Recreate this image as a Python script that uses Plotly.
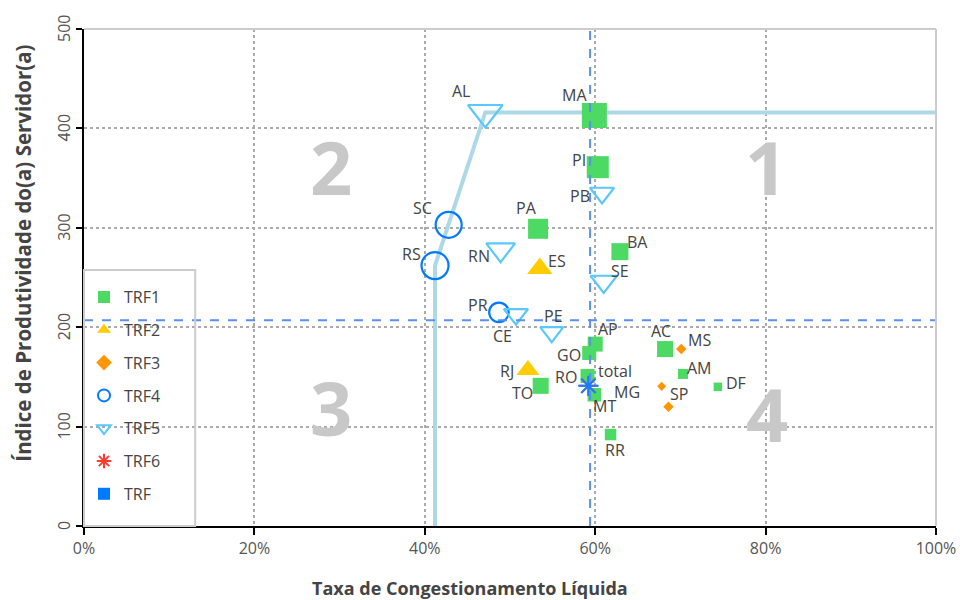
import plotly.graph_objects as go

# ---------------- data ----------------
trf1_names = ["MA", "PI", "PA", "BA", "AP", "GO", "AC", "RO", "TO", "MT", "AM", "DF", "RR"]
trf1_x = [0.599, 0.603, 0.533, 0.629, 0.600, 0.593, 0.682, 0.591, 0.536, 0.599, 0.703, 0.744, 0.618]
trf1_y = [413, 361, 299, 276, 183, 174, 178, 151, 141, 132, 153, 140, 92]
trf1_size = [25, 22, 20, 17, 15, 14, 16, 14, 16, 13.5, 10, 8.5, 11.5]

trf2_names = ["ES", "RJ"]
trf2_x = [0.535, 0.521]
trf2_y = [259, 157]
trf2_size = [22, 20]

trf3_names = ["MS", "SP", ""]
trf3_x = [0.701, 0.678, 0.686]
trf3_y = [178, 140.5, 120]
trf3_size = [8, 7, 8]

trf4_names = ["SC", "RS", "PR"]
trf4_x = [0.428, 0.412, 0.487]
trf4_y = [303, 262, 215]
trf4_size = [26, 27, 19.5]

trf5_names = ["AL", "PB", "RN", "SE", "CE", "PE"]
trf5_x = [0.471, 0.608, 0.489, 0.610, 0.507, 0.549]
trf5_y = [416, 335, 278, 246, 213, 195]
trf5_size = [30, 21, 25, 23, 21, 20]

trf6_names = ["MG"]
trf6_x = [0.592]
trf6_y = [141]

total_names = ["total"]
total_x = [0.592]
total_y = [141]

frontier_x = [0.412, 0.412, 0.471, 1.0]
frontier_y = [0, 262, 416, 416]

ref_x = 0.594   # vertical dashed reference
ref_y = 207     # horizontal dashed reference

quadrant_labels = ["1", "2", "3", "4"]
quadrant_x = [0.80, 0.29, 0.29, 0.802]
quadrant_y = [362, 362, 119, 113]

x_ticks = [0, 0.2, 0.4, 0.6, 0.8, 1.0]
y_ticks = [0, 100, 200, 300, 400, 500]

x_title = "Taxa de Congestionamento Líquida"
y_title = "Índice de Produtividade do(a) Servidor(a)"

# ---------------- style: label offsets (px, right / down) ----------------
trf1_lbl = [(-20, -20), (-19, -7), (-12, -21), (18, -10), (13, -15), (-20, 2), (-4, -18),
            (-22, 1), (-18, 7), (10, 11), (17, -6), (18, -4), (4, 15)]
trf2_lbl = [(17, -8), (-21, 1)]
trf3_lbl = [(18, -9), (17, 8), (0, 0)]
trf4_lbl = [(-26, -17), (-24, -12), (-21, -7)]
trf5_lbl = [(-24, -22), (-22, 3), (-22, 6), (16, -10), (-13, 22), (2, -16)]
trf6_lbl = [(39, 6)]
total_lbl = [(27, -15)]

FONT = "Open Sans"
TXT = "#444444"
TICK = "#555555"

fig = go.Figure()

# frontier
fig.add_trace(go.Scatter(x=frontier_x, y=frontier_y, mode="lines",
                         line=dict(color="#add8e6", width=4), showlegend=False,
                         hoverinfo="skip"))

def add(name, xs, ys, names, lbl, marker, show=True):
    fig.add_trace(go.Scatter(x=xs, y=ys, mode="markers", marker=marker, text=names,
                             name=name, legendgroup=name, showlegend=show))
    for xv, yv, t, (dx, dy) in zip(xs, ys, names, lbl):
        if t:
            fig.add_annotation(x=xv, y=yv, text=t, showarrow=False, xshift=dx, yshift=-dy,
                               xanchor="center", yanchor="middle", borderpad=0,
                               font=dict(family=FONT, size=16, color=TXT))

add("TRF1", trf1_x, trf1_y, trf1_names, trf1_lbl,
    dict(symbol="square", color="#4cd964", size=trf1_size, opacity=1, line=dict(width=0)))
add("TRF2", trf2_x, trf2_y, trf2_names, trf2_lbl,
    dict(symbol="triangle-up", color="#ffcc00", size=trf2_size, opacity=1, line=dict(width=0)))
add("TRF3", trf3_x, trf3_y, trf3_names, trf3_lbl,
    dict(symbol="diamond", color="#ff9500", size=trf3_size, opacity=1, line=dict(width=0)))
add("TRF4", trf4_x, trf4_y, trf4_names, trf4_lbl,
    dict(symbol="circle-open", color="#007aff", size=trf4_size, opacity=1, line=dict(width=2.2)))
add("TRF5", trf5_x, trf5_y, trf5_names, trf5_lbl,
    dict(symbol="triangle-down-open", color="#5ac8fa", size=trf5_size, opacity=1,
         line=dict(width=2.2)))
add("TRF6", trf6_x, trf6_y, trf6_names, trf6_lbl,
    dict(symbol="asterisk-open", color="#ff3b30", size=16, opacity=1, line=dict(width=2)))
# total (drawn as asterisk, legend shows a square)
add("TRF", total_x, total_y, total_names, total_lbl,
    dict(symbol="asterisk-open", color="#1a7cff", size=17, opacity=1, line=dict(width=2)),
    show=False)
fig.add_trace(go.Scatter(x=[None], y=[None], mode="markers", name="TRF", legendgroup="TRF",
                         marker=dict(symbol="square", color="#007aff", size=12)))

# dashed reference lines
fig.add_shape(type="line", xref="x", yref="paper", x0=ref_x, x1=ref_x, y0=0, y1=1,
              line=dict(color="#5b8ff0", width=2, dash="dash"))
fig.add_shape(type="line", xref="paper", yref="y", x0=0, x1=1, y0=ref_y, y1=ref_y,
              line=dict(color="#5b8ff0", width=2, dash="dash"))
# frame: gray top/right
fig.add_shape(type="line", xref="paper", yref="paper", x0=0, x1=1, y0=1, y1=1,
              line=dict(color="#cccccc", width=2))
fig.add_shape(type="line", xref="paper", yref="paper", x0=1, x1=1, y0=0, y1=1,
              line=dict(color="#cccccc", width=2))
# legend box
fig.add_shape(type="rect", xref="paper", yref="paper", x0=0, x1=0.1305, y0=0, y1=0.515,
              line=dict(color="#cccccc", width=2), fillcolor="rgba(0,0,0,0)")

for t, qx, qy in zip(quadrant_labels, quadrant_x, quadrant_y):
    fig.add_annotation(x=qx, y=qy, text=t, showarrow=False,
                       font=dict(family=FONT, size=74, color="#c8c8c8", weight="bold"))

# rotated y tick labels
for v in y_ticks:
    fig.add_annotation(xref="paper", yref="y", x=0, y=v, text=str(v), showarrow=False,
                       xanchor="center", yanchor="middle", textangle=-90, xshift=-20,
                       font=dict(family=FONT, size=16, color=TICK))

# axis titles
fig.add_annotation(xref="paper", yref="paper", x=0.453, y=-0.124, text="<b>" + x_title + "</b>",
                   showarrow=False, xanchor="center", yanchor="middle", borderpad=0,
                   font=dict(family=FONT, size=18, color=TXT))
fig.add_annotation(xref="paper", yref="paper", x=-0.071, y=0.549, text="<b>" + y_title + "</b>",
                   showarrow=False, xanchor="center", yanchor="middle", textangle=-90,
                   font=dict(family=FONT, size=20.5, color=TXT))

fig.update_xaxes(range=[0, 1], tickvals=x_ticks, tickformat=".0%", automargin=False,
                 showline=True, linecolor="black", linewidth=2,
                 ticks="outside", ticklen=7, tickwidth=2, tickcolor="black",
                 showgrid=True, gridcolor="#aaaaaa", griddash="dot", gridwidth=1.5,
                 zeroline=False,
                 tickfont=dict(family=FONT, size=16, color=TICK))
fig.update_yaxes(range=[0, 500], tickvals=y_ticks, showticklabels=False, automargin=False,
                 showline=True, linecolor="black", linewidth=2,
                 ticks="outside", ticklen=6, tickwidth=2, tickcolor="black",
                 showgrid=True, gridcolor="#aaaaaa", griddash="dot", gridwidth=1.5,
                 zeroline=False)

fig.update_layout(
    width=960, height=600,
    margin=dict(l=84, r=24, t=29, b=74),
    plot_bgcolor="white", paper_bgcolor="white",
    font=dict(family=FONT, color=TXT),
    legend=dict(x=0, y=0.03, xanchor="left", yanchor="bottom",
                bgcolor="rgba(0,0,0,0)", borderwidth=0,
                font=dict(family=FONT, size=16, color=TXT),
                itemsizing="constant", tracegroupgap=9, traceorder="grouped"),
)

fig.write_html("out.html", config={"displayModeBar": False},
               post_script="document.body.style.margin='0px';")
